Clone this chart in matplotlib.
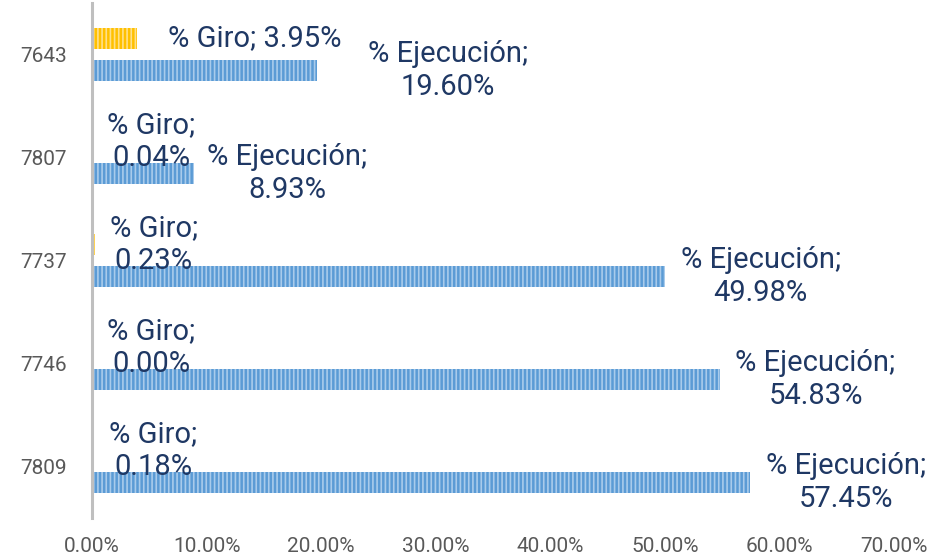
import numpy as np
import matplotlib
matplotlib.use('Agg')
import matplotlib.pyplot as plt

# datos (de arriba hacia abajo)
codigos = ['7643', '7807', '7737', '7746', '7809']
giro = [3.95, 0.04, 0.23, 0.00, 0.18]
ejecucion = [19.60, 8.93, 49.98, 54.83, 57.45]

plt.rcParams['font.family'] = ['Roboto', 'DejaVu Sans']
plt.rcParams['hatch.linewidth'] = 1.2

azul = '#5B9BD5'
amarillo = '#FFC000'
texto = '#1F3864'

fig = plt.figure(figsize=(9.48, 5.56), dpi=100)
ax = fig.add_axes([92/948, 38/556, 802/948, 515/556])

y = np.arange(len(codigos))
alto = 0.21
off = 0.155

ax.barh(y - off, giro, height=alto, color=amarillo, edgecolor='#FFE08A',
        hatch='||||', linewidth=0)
ax.barh(y + off, ejecucion, height=alto, color=azul, edgecolor='#A9CBEB',
        hatch='||||', linewidth=0)

# separacion de las etiquetas (pt)
sep_giro = [22, 10.8, 10.8, 10.8, 10.8]
sep_ejec = [37, 9, 11.5, 11, 11.5]

for i in range(len(codigos)):
    if i == 0:
        tg = '% Giro; {:.2f}%'.format(giro[i])
    else:
        tg = '% Giro;\n{:.2f}%'.format(giro[i])
    ax.annotate(tg, (giro[i], y[i] - off), xytext=(sep_giro[i], 0),
                textcoords='offset points', ha='left', va='center',
                multialignment='center', fontsize=21, color=texto,
                linespacing=1.25)
    te = '% Ejecución;\n{:.2f}%'.format(ejecucion[i])
    ax.annotate(te, (ejecucion[i], y[i] + off), xytext=(sep_ejec[i], 0),
                textcoords='offset points', ha='left', va='center',
                multialignment='center', fontsize=21, color=texto,
                linespacing=1.25)

ax.set_xlim(0, 70)
ax.set_ylim(len(codigos) - 0.5, -0.5)
ax.set_xticks(np.arange(0, 71, 10))
ax.set_xticklabels(['{:.2f}%'.format(v) for v in np.arange(0, 71, 10)])
ax.set_yticks(y)
ax.set_yticklabels(codigos)
ax.tick_params(axis='x', length=0, pad=14, labelsize=15, labelcolor='#595959')
ax.tick_params(axis='y', length=0, pad=18, labelsize=15, labelcolor='#595959')

for s in ['top', 'right', 'bottom']:
    ax.spines[s].set_visible(False)
ax.spines['left'].set_color('#BFBFBF')
ax.spines['left'].set_linewidth(2.2)

fig.savefig('out.png', dpi=100)
